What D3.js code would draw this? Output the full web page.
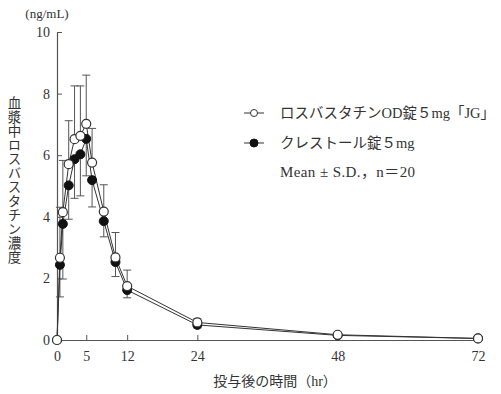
<!DOCTYPE html>
<html>
<head>
<meta charset="utf-8">
<script src="https://cdn.jsdelivr.net/npm/d3@7"></script>
<style>
  body { margin: 0; background: #fff; }
  svg text { font-family: "Liberation Serif", "Noto Sans CJK JP", serif; fill: #333; }
</style>
</head>
<body>
<svg id="chart" width="501" height="394"></svg>
<script>
// plasma concentration data
const times = [0, 0.5, 1, 2, 3, 4, 5, 6, 8, 10, 12, 24, 48, 72];
const jgMean = [0, 2.67, 4.15, 5.71, 6.52, 6.63, 7.02, 5.76, 4.17, 2.68, 1.75, 0.57, 0.17, 0.05];
const jgSD = [0, 1.64, 1.68, 1.41, 1.73, 1.62, 1.58, 1.11, 0.87, 0.81, 0.52, 0.12, 0.05, 0.02];
const crestorMean = [0, 2.44, 3.77, 5.02, 5.87, 6.03, 6.53, 5.19, 3.86, 2.53, 1.62, 0.49, 0.15, 0.05];
const crestorSD = [0, 1.04, 1.79, 1.10, 1.27, 1.35, 1.20, 0.87, 0.51, 0.47, 0.25, 0.10, 0.04, 0.02];
const xTicks = [0, 5, 12, 24, 48, 72];
const yTicks = [0, 2, 4, 6, 8, 10];

const d3 = window.d3;
const svg = d3.select('#chart');
const ink = '#333';

const x = d3.scaleLinear().domain([0, 72]).range([57, 478]);
const y = d3.scaleLinear().domain([0, 10]).range([340, 32]);

// axes with inward ticks
const xAxis = svg.append('g')
  .attr('transform', `translate(0, ${y(0)})`)
  .call(d3.axisBottom(x).tickValues(xTicks).tickSizeInner(-5).tickSizeOuter(0).tickPadding(11));
const yAxis = svg.append('g')
  .attr('transform', `translate(${x(0)}, 0)`)
  .call(d3.axisLeft(y).tickValues(yTicks).tickSizeInner(-5).tickSizeOuter(0).tickPadding(7));

[xAxis, yAxis].forEach(a => {
  a.select('.domain').attr('stroke', '#555').attr('stroke-width', 1.2);
  a.selectAll('.tick line').attr('stroke', '#555');
  a.selectAll('text').style('font-size', '14px').attr('fill', ink);
});
xAxis.selectAll('.tick').filter(d => d === 0).select('line').remove();
yAxis.selectAll('.tick').filter(d => d === 0).select('line').remove();

const jg = times.map((t, i) => ({ t: t, v: jgMean[i], sd: jgSD[i] }));
const cr = times.map((t, i) => ({ t: t, v: crestorMean[i], sd: crestorSD[i] }));

// error bars: + SD for JG, - SD for Crestor
function errorBars(data, sign) {
  const g = svg.append('g').attr('stroke', '#555').attr('stroke-width', 1);
  data.filter(d => d.sd > 0).forEach(d => {
    const end = d.v + sign * d.sd;
    g.append('line').attr('x1', x(d.t)).attr('x2', x(d.t)).attr('y1', y(d.v)).attr('y2', y(end));
    g.append('line').attr('x1', x(d.t) - 4).attr('x2', x(d.t) + 4).attr('y1', y(end)).attr('y2', y(end));
  });
}
errorBars(jg, 1);
errorBars(cr, -1);

const line = d3.line().x(d => x(d.t)).y(d => y(d.v));
[cr, jg].forEach(data => {
  svg.append('path').datum(data)
    .attr('d', line).attr('fill', 'none').attr('stroke', ink).attr('stroke-width', 1);
});

svg.append('g').selectAll('circle').data(cr).enter().append('circle')
  .attr('cx', d => x(d.t)).attr('cy', d => y(d.v)).attr('r', 4.5)
  .attr('fill', '#111').attr('stroke', '#111');
svg.append('g').selectAll('circle').data(jg).enter().append('circle')
  .attr('cx', d => x(d.t)).attr('cy', d => y(d.v)).attr('r', 4.5)
  .attr('fill', '#fff').attr('stroke', ink).attr('stroke-width', 1.2);

// unit and axis titles
svg.append('text').attr('x', 47).attr('y', 18).attr('text-anchor', 'middle')
  .style('font-size', '13px').text('(ng/mL)');
svg.append('text').attr('x', 275).attr('y', 386).attr('text-anchor', 'middle')
  .style('font-size', '14px').text('投与後の時間（hr）');
svg.append('text').attr('x', 13).attr('y', 96)
  .style('font-size', '13.5px').style('writing-mode', 'vertical-rl').style('text-orientation', 'upright')
  .style('letter-spacing', '0.5px')
  .text('血漿中ロスバスタチン濃度');

// legend
const legend = svg.append('g');
const legendItems = [
  { label: 'ロスバスタチンOD錠５mg「JG」', fill: '#fff', y: 113 },
  { label: 'クレストール錠５mg', fill: '#111', y: 143 }
];
legendItems.forEach(item => {
  legend.append('line').attr('x1', 244).attr('x2', 264).attr('y1', item.y).attr('y2', item.y)
    .attr('stroke', ink).attr('stroke-width', 1);
  legend.append('circle').attr('cx', 254).attr('cy', item.y).attr('r', item.fill === '#fff' ? 3.5 : 4)
    .attr('fill', item.fill).attr('stroke', item.fill === '#fff' ? ink : '#111');
  legend.append('text').attr('x', 280).attr('y', item.y + 5).style('font-size', '14.5px').text(item.label);
});
legend.append('text').attr('x', 280).attr('y', 177).style('font-size', '15px')
  .style('letter-spacing', '0.4px').text('Mean ± S.D.，n＝20');
</script>
</body>
</html>
